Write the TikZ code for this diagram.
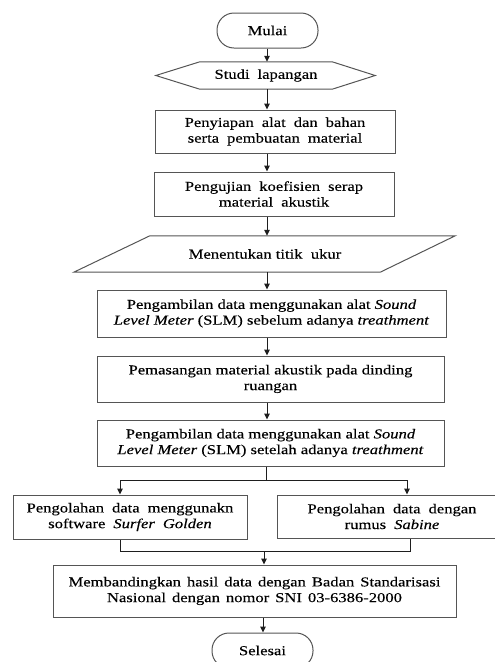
\documentclass[tikz,border=0pt]{standalone}
\usepackage{fontspec}
\setmainfont{Liberation Serif}[FakeStretch=1.22,FakeBold=0.25]
\usetikzlibrary{arrows.meta,calc}
\definecolor{boxline}{RGB}{85,85,85}
\definecolor{flowline}{RGB}{30,30,30}
\tikzset{
  flowbox/.style={draw=boxline,line width=1pt,inner sep=0pt,align=center,font=\fontsize{13.6}{15.7}\selectfont},
  plainbox/.style={inner sep=0pt,align=center,font=\fontsize{13.6}{15.7}\selectfont},
  terminal/.style={flowbox,rounded corners=17pt,minimum width=101pt,minimum height=35pt},
  loose/.style={execute at begin node={\spaceskip=#1\relax}},
  loose/.default={8pt plus 2pt},
  arr/.style={-{Triangle[length=6pt,width=5.5pt]},line width=1pt,draw=flowline},
  link/.style={line width=1pt,draw=flowline},
  outline/.style={draw=boxline,line width=1pt}
}
\begin{document}
\begin{tikzpicture}[x=1pt,y=-1pt]
    \useasboundingbox (0,0) rectangle (495,662);
    \clip (0,0) rectangle (495,662);
    % main column
    \node[terminal] (mulai) at (267.5,30.5) {Mulai};
    \node[plainbox,loose,minimum width=132pt,minimum height=27pt] (studi) at (266,75.5) {Studi lapangan};
    \draw[outline] (studi.north west)--(studi.north east)--($(studi.east)+(43,0)$)--(studi.south east)
      --(studi.south west)--($(studi.west)+(-44,0)$)--cycle;
    \node[flowbox,loose,minimum width=240pt,minimum height=43pt] (siapan) at (275,131.5) {Penyiapan alat dan bahan\\serta pembuatan material};
    \node[flowbox,loose,minimum width=240pt,minimum height=44pt] (uji) at (274,194) {Pengujian koefisien serap\\material akustik};
    \node[plainbox,minimum width=230pt,minimum height=36pt] (titik) at (265,254) {Menentukan titik~ ukur};
    \draw[outline] (titik.north west)--($(titik.north east)+(75,0)$)--(titik.south east)
      --($(titik.south west)+(-76,0)$)--cycle;
    \node[flowbox,minimum width=349pt,minimum height=47pt] (sebelum) at (271.5,313.5) {Pengambilan data menggunakan alat \textit{Sound}\\\textit{Level Meter} (SLM) sebelum adanya \textit{treathment}};
    \node[flowbox,minimum width=347pt,minimum height=46pt] (pasang) at (270.5,379) {Pemasangan material akustik pada dinding\\ruangan};
    \node[flowbox,minimum width=347pt,minimum height=46pt] (setelah) at (270.5,443) {Pengambilan data menggunakan alat \textit{Sound}\\\textit{Level Meter} (SLM) setelah adanya \textit{treathment}};
    % two branches
    \node[flowbox,loose,minimum width=234pt,minimum height=44pt] (surfer) at (130,517) {Pengolahan data menggunakn\\software \textit{Surfer Golden}};
    \node[flowbox,loose,minimum width=230pt,minimum height=43pt] (sabine) at (392,516.5) {Pengolahan data dengan\\rumus \textit{Sabine}};
    \node[flowbox,loose={6pt plus 2pt},minimum width=403pt,minimum height=52pt] (banding) at (254.5,591) {Membandingkan hasil data dengan Badan Standarisasi\\Nasional dengan nomor SNI 03-6386-2000};
    \node[terminal] (selesai) at (262.5,650.5) {Selesai};
    % connectors
    \coordinate (spine) at (267,0);
    \draw[arr] (mulai.south -| spine)--(studi.north -| spine);
    \draw[arr] (studi.south -| spine)--(siapan.north -| spine);
    \draw[arr] (siapan.south -| spine)--(uji.north -| spine);
    \draw[arr] (uji.south -| spine)--(titik.north -| spine);
    \draw[arr] (titik.south -| spine)--(sebelum.north -| spine);
    \draw[arr] (sebelum.south -| spine)--(pasang.north -| spine);
    \draw[arr] (pasang.south -| spine)--(setelah.north -| spine);
    \coordinate (fork) at (266,480);
    \coordinate (forkL) at (120,480);
    \coordinate (forkR) at (407,480);
    \draw[link] (setelah.south -| fork)--(fork);
    \draw[link] (forkL)--(forkR);
    \draw[arr] (forkL)--(forkL |- surfer.north);
    \draw[arr] (forkR)--(forkR |- sabine.north);
    \coordinate (joinL) at (120,551);
    \coordinate (joinR) at (410,551);
    \coordinate (join) at (264,551);
    \draw[link] (surfer.south -| joinL)--(joinL)--(joinR)--(sabine.south -| joinR);
    \draw[arr] (join)--(banding.north -| join);
    \coordinate (tail) at (263,0);
    \draw[arr] (banding.south -| tail)--(selesai.north -| tail);
  \end{tikzpicture}
\end{document}
